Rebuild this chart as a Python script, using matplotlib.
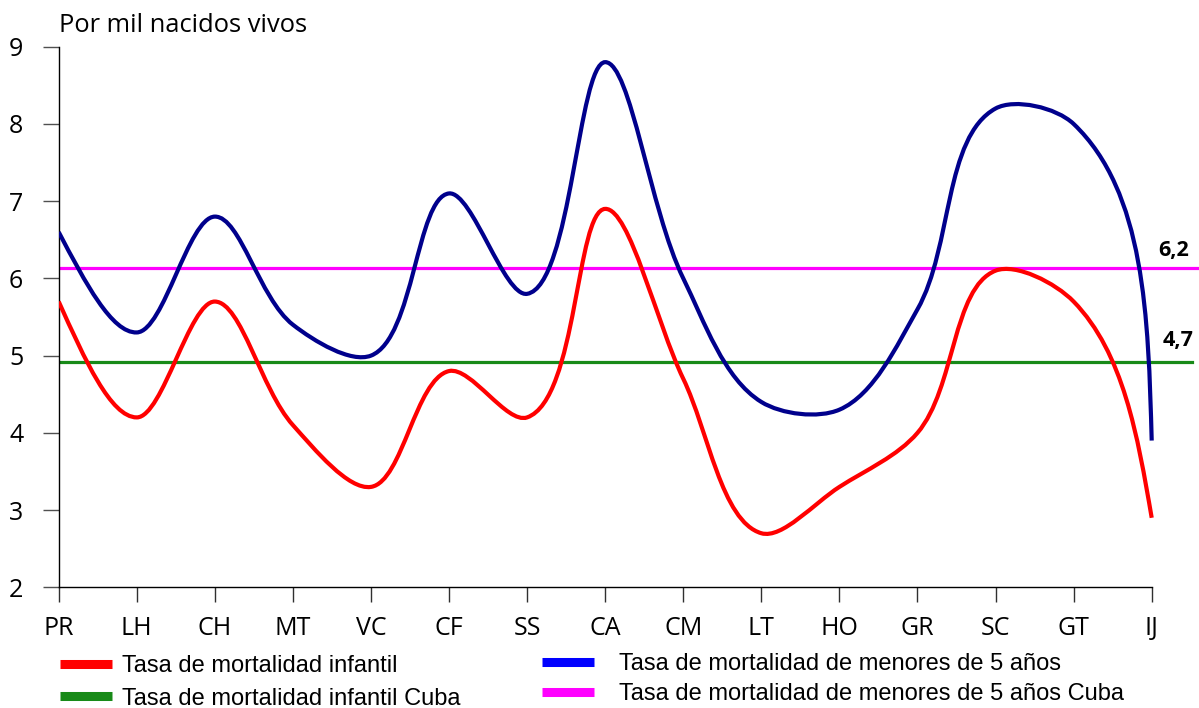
import numpy as np
import matplotlib
matplotlib.use('Agg')
import matplotlib.pyplot as plt
from matplotlib.path import Path
from matplotlib.patches import PathPatch
from matplotlib.lines import Line2D

# provincias
provinces = ['PR', 'LH', 'CH', 'MT', 'VC', 'CF', 'SS', 'CA', 'CM', 'LT', 'HO', 'GR', 'SC', 'GT', 'IJ']
# tasa de mortalidad infantil
infant = [5.7, 4.2, 5.7, 4.1, 3.3, 4.8, 4.2, 6.9, 4.7, 2.7, 3.3, 4.0, 6.1, 5.7, 2.9]
# tasa de mortalidad de menores de 5 años
under5 = [6.6, 5.3, 6.8, 5.4, 5.0, 7.1, 5.8, 8.8, 6.0, 4.4, 4.3, 5.6, 8.2, 8.0, 3.9]
# valores de Cuba (posicion de la linea y etiqueta)
cuba_infant = 4.92
cuba_infant_label = '4,7'
cuba_under5 = 6.14
cuba_under5_label = '6,2'

yticks = [2, 3, 4, 5, 6, 7, 8, 9]

RED = '#ff0000'
NAVY = '#00008c'
GREEN = '#188a18'
MAGENTA = '#ff00ff'

TICK_FONT = 'Open Sans'
LEG_FONT = 'Liberation Sans'

# pixeles por unidad (para suavizar en espacio de pantalla)
SX, SY = 78.07, 77.3


def smooth_path(xs, ys):
    # curva suavizada: bezier con tangentes bisectrices y extremos parabolicos
    P = np.column_stack([np.asarray(xs, float) * SX, np.asarray(ys, float) * SY])
    n = len(P)
    seg = np.diff(P, axis=0)
    d = np.hypot(seg[:, 0], seg[:, 1])
    u = seg / d[:, None]
    c_out = np.zeros_like(P)
    c_in = np.zeros_like(P)
    for i in range(1, n - 1):
        t = u[i - 1] + u[i]
        t /= np.hypot(*t)
        L = np.hypot(*(P[i + 1] - P[i - 1]))
        c_out[i] = t * L * d[i] / (d[i - 1] + d[i]) / 3.
        c_in[i] = t * L * d[i - 1] / (d[i - 1] + d[i]) / 3.
    c_out[0] = (3 * seg[0] - 3 * c_in[1]) / 2. / 3.
    c_in[-1] = (3 * seg[-1] - 3 * c_out[-2]) / 2. / 3.

    verts = [P[0]]
    codes = [Path.MOVETO]
    for i in range(n - 1):
        verts += [P[i] + c_out[i], P[i + 1] - c_in[i + 1], P[i + 1]]
        codes += [Path.CURVE4] * 3
    verts = np.array(verts) / [SX, SY]
    return Path(verts, codes)


W, H = 1199, 708
fig = plt.figure(figsize=(W / 100, H / 100), dpi=100)

x0, x_end, y_top, y_bot = 58.7, 1151.7, 46.7, 587.3
ax = fig.add_axes([x0 / W, 1 - y_bot / H, (W - x0) / W, (y_bot - y_top) / H])

x = np.arange(len(provinces))
ax.set_xlim(0, (len(provinces) - 1) * (W - x0) / (x_end - x0))
ax.set_ylim(2, 9)

ax.axhline(cuba_under5, xmin=0, xmax=1, color=MAGENTA, lw=2.3, zorder=2)
ax.axhline(cuba_infant, xmin=0, xmax=0.9936, color=GREEN, lw=2.3, zorder=2)

ax.add_patch(PathPatch(smooth_path(x, under5), fill=False, edgecolor=NAVY,
                       lw=3.0, capstyle='butt', zorder=3))
ax.add_patch(PathPatch(smooth_path(x, infant), fill=False, edgecolor=RED,
                       lw=3.0, capstyle='butt', zorder=3))

ax.annotate(cuba_under5_label, xy=(x[-1], cuba_under5), xytext=(4.5, 12),
            textcoords='offset points', ha='left', va='center',
            fontsize=15.5, fontweight='bold', family=TICK_FONT)
ax.annotate(cuba_infant_label, xy=(x[-1], cuba_infant), xytext=(8, 15),
            textcoords='offset points', ha='left', va='center',
            fontsize=15.5, fontweight='bold', family=TICK_FONT)

for s in ['top', 'right']:
    ax.spines[s].set_visible(False)
ax.spines['left'].set_linewidth(1.0)
ax.spines['bottom'].set_linewidth(1.0)
ax.spines['bottom'].set_bounds(0, x[-1])

ax.set_xticks(x)
ax.set_xticklabels(provinces, family=TICK_FONT, fontsize=18)
ax.set_yticks(yticks)
ax.set_yticklabels([str(v) for v in yticks], family=TICK_FONT, fontsize=18)
ax.tick_params(axis='y', length=11.5, width=1, color='#505050', pad=14)
ax.tick_params(axis='x', length=11, width=1, color='#303030', pad=9.5)

fig.text(59.3 / W, 1 - 32.3 / H, 'Por mil nacidos vivos', family=TICK_FONT,
         fontsize=18.4, va='baseline', ha='left')

h_red = Line2D([], [], color=RED, lw=6.5, solid_capstyle='butt')
h_green = Line2D([], [], color=GREEN, lw=6.5, solid_capstyle='butt')
h_blue = Line2D([], [], color='#0000ff', lw=6.5, solid_capstyle='butt')
h_mag = Line2D([], [], color=MAGENTA, lw=6.5, solid_capstyle='butt')

leg_kw = dict(frameon=False, loc='upper left', borderpad=0, borderaxespad=0,
              handlelength=2.2, prop={'family': LEG_FONT, 'size': 17})
fig.legend([h_red, h_green],
           ['Tasa de mortalidad infantil', 'Tasa de mortalidad infantil Cuba'],
           bbox_to_anchor=(60 / W, 1 - 655 / H), handletextpad=0.42,
           labelspacing=0.45, **leg_kw)
fig.legend([h_blue, h_mag],
           ['Tasa de mortalidad de menores de 5 años',
            'Tasa de mortalidad de menores de 5 años Cuba'],
           bbox_to_anchor=(542 / W, 1 - 653 / H), handletextpad=1.05,
           labelspacing=0.35, **leg_kw)

fig.savefig('out.png', dpi=100)
